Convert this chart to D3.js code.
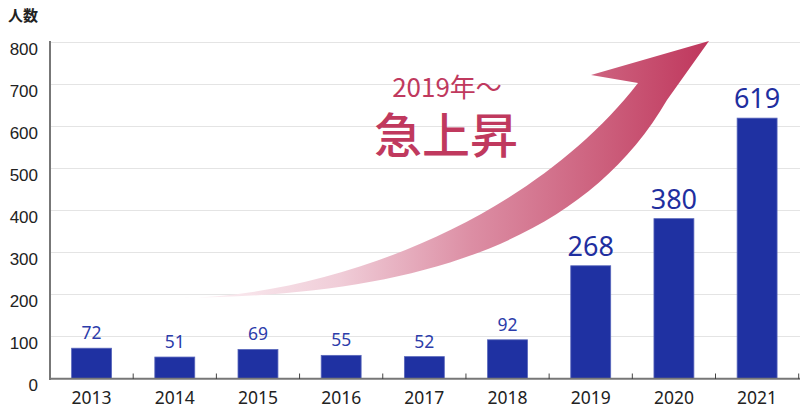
<!DOCTYPE html>
<html><head><meta charset="utf-8">
<script src="https://cdn.jsdelivr.net/npm/d3@7"></script>
<style>html,body{margin:0;padding:0;background:#fff;}svg{display:block;}</style>
</head><body>
<script>
const years = ["2013","2014","2015","2016","2017","2018","2019","2020","2021"];
const counts = [72,51,69,55,52,92,268,380,619];
const bigFrom = 6; // index from which labels are large
const yTicks = [0,100,200,300,400,500,600,700,800];
const yTitle = "人数";
const note1 = "2019年〜";
const note2 = "急上昇";

const W = 800, H = 410;
const svg = d3.select("body").append("svg").attr("width", W).attr("height", H);

const x = d3.scaleBand().domain(years).range([50, 798.7]).paddingInner(0.52).paddingOuter(0.26);
const y = d3.scaleLinear().domain([0, 800]).range([378.5, 42]);

// gridlines
svg.append("g").selectAll("line").data(yTicks.filter(d => d > 0)).join("line")
  .attr("x1", 51).attr("x2", 800).attr("y1", d => Math.round(y(d)) + 0.5).attr("y2", d => Math.round(y(d)) + 0.5)
  .attr("stroke", "#e4e4e4").attr("stroke-width", 1.2);

// y labels
svg.append("g").selectAll("text").data(yTicks).join("text")
  .attr("x", 38).attr("y", d => y(d) + 12.5).attr("text-anchor", "end")
  .attr("font-family", "Liberation Sans, Arial, sans-serif").attr("font-size", 17).attr("fill", "#222")
  .text(d => d);

svg.append("text").attr("x", 8).attr("y", 21).attr("font-family", "Noto Sans CJK JP").attr("font-weight", 700)
  .attr("font-size", 15).attr("fill", "#222").text(yTitle);

// arrow
const defs = svg.append("defs");
const grad = defs.append("linearGradient").attr("id", "ag").attr("gradientUnits", "userSpaceOnUse")
  .attr("x1", 180).attr("y1", 0).attr("x2", 710).attr("y2", 0);
grad.append("stop").attr("offset", 0).attr("stop-color", "#fdf4f7");
grad.append("stop").attr("offset", 0.3).attr("stop-color", "#f0cdd8");
grad.append("stop").attr("offset", 0.55).attr("stop-color", "#dc8ea4");
grad.append("stop").attr("offset", 0.8).attr("stop-color", "#cc5f7c");
grad.append("stop").attr("offset", 1).attr("stop-color", "#bf365c");

const ap = d3.path();
ap.moveTo(180, 298);
ap.bezierCurveTo(330, 296, 530, 222, 638, 83);
ap.lineTo(591, 75);
ap.lineTo(709, 41);
ap.lineTo(667, 100);
ap.bezierCurveTo(580, 250, 400, 296, 180, 298);
ap.closePath();
svg.append("path").attr("d", ap.toString()).attr("fill", "url(#ag)");

// note text
svg.append("text").attr("x", 447).attr("y", 97).attr("text-anchor", "middle")
  .attr("font-family", "Noto Sans CJK JP").attr("font-size", 26).attr("fill", "#c0395e").text(note1);
svg.append("text").attr("x", 446).attr("y", 153).attr("text-anchor", "middle")
  .attr("font-family", "Noto Sans CJK JP").attr("font-weight", 500).attr("font-size", 48).attr("fill", "#c0395e").text(note2);

// bars
svg.append("g").selectAll("rect").data(counts).join("rect")
  .attr("x", (d, i) => x(years[i])).attr("width", x.bandwidth())
  .attr("y", d => y(d)).attr("height", d => y(0) - y(d))
  .attr("fill", "#1f31a2").attr("stroke", "#5866bb").attr("stroke-width", 0.8);

// value labels
svg.append("g").selectAll("text").data(counts).join("text")
  .attr("x", (d, i) => x(years[i]) + x.bandwidth() / 2)
  .attr("y", (d, i) => y(d) - (i >= bigFrom ? 10 : 9))
  .attr("text-anchor", "middle").attr("font-family", "Noto Sans")
  .attr("font-size", (d, i) => i >= bigFrom ? 27 : 17.5)
  .attr("fill", (d, i) => i >= bigFrom ? "#1f2f9f" : "#2c3caa")
  .text(d => d);

// axes lines
svg.append("line").attr("x1", 50).attr("x2", 50).attr("y1", 41).attr("y2", 380).attr("stroke", "#777").attr("stroke-width", 2);
svg.append("line").attr("x1", 49).attr("x2", 800).attr("y1", 378.7).attr("y2", 378.7).attr("stroke", "#777").attr("stroke-width", 2);
const step = x.step();
svg.append("g").selectAll("line").data(years).join("line")
  .attr("x1", (d) => x(d) - x.paddingOuter() * step + step).attr("x2", d => x(d) - x.paddingOuter() * step + step)
  .attr("y1", 373.5).attr("y2", 379).attr("stroke", "#444").attr("stroke-width", 1);

// x labels
svg.append("g").selectAll("text").data(years).join("text")
  .attr("x", d => x(d) + x.bandwidth() / 2).attr("y", 404)
  .attr("text-anchor", "middle").attr("font-family", "Noto Sans").attr("font-size", 17.5).attr("fill", "#222")
  .text(d => d);
</script>
</body></html>
